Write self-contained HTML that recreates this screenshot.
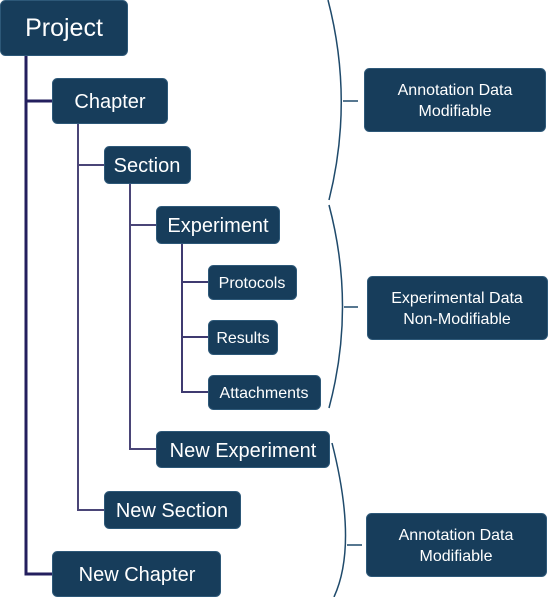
<!DOCTYPE html>
<html><head><meta charset="utf-8"><style>
html,body{margin:0;padding:0;background:#fff;}
svg text{font-family:"Liberation Sans",sans-serif;fill:#fff;}
</style></head><body>
<svg width="548" height="597" viewBox="0 0 548 597" xmlns="http://www.w3.org/2000/svg">
<g fill="none">
<path d="M26 55 V574 H52 M26 101 H52" stroke="#231f5e" stroke-width="3"/>
<path d="M78 123 V510 H104 M78 165 H104" stroke="#4a4577" stroke-width="2"/>
<path d="M130 183 V449 H156 M130 225 H156" stroke="#4a4577" stroke-width="2"/>
<path d="M182 243 V392 H208 M182 282 H208 M182 337 H208" stroke="#3f3a70" stroke-width="2"/>
<g stroke="#1f4a6b" stroke-width="1.5">
<path d="M328 0 Q354 100 329 200 M343 101 H358"/>
<path d="M329 205 Q356 307 329 408 M344 307 H358"/>
<path d="M332 443 Q358 545 334 597 M347 545 H362"/>
</g>
</g>
<g fill="#173d5b" stroke="#2d5878" stroke-width="1">
<rect x="0.5" y="0.5" width="127" height="55" rx="5"/>
<rect x="52.5" y="78.5" width="115" height="45" rx="5"/>
<rect x="104.5" y="146.5" width="86" height="37" rx="5"/>
<rect x="156.5" y="206.5" width="123" height="37" rx="5"/>
<rect x="208.5" y="265.5" width="88" height="34" rx="5"/>
<rect x="208.5" y="320.5" width="69" height="34" rx="5"/>
<rect x="208.5" y="375.5" width="112" height="34" rx="5"/>
<rect x="156.5" y="431.5" width="173" height="36" rx="5"/>
<rect x="104.5" y="491.5" width="136" height="37" rx="5"/>
<rect x="52.5" y="551.5" width="168" height="45" rx="5"/>
<rect x="364.5" y="68.5" width="181" height="63" rx="5"/>
<rect x="367.5" y="276.5" width="180" height="63" rx="5"/>
<rect x="366.5" y="513.5" width="180" height="63" rx="5"/>
</g>
<g text-anchor="middle">
<text x="64" y="36" font-size="25">Project</text>
<text x="110" y="108" font-size="20">Chapter</text>
<text x="147" y="172" font-size="20">Section</text>
<text x="218" y="232" font-size="20">Experiment</text>
<text x="252" y="288" font-size="16">Protocols</text>
<text x="243" y="343" font-size="16">Results</text>
<text x="264" y="398" font-size="16">Attachments</text>
<text x="243" y="457" font-size="20">New Experiment</text>
<text x="172" y="517" font-size="20">New Section</text>
<text x="137" y="581" font-size="20">New Chapter</text>
<text x="455" y="95" font-size="16">Annotation Data</text>
<text x="455" y="116" font-size="16">Modifiable</text>
<text x="457" y="303" font-size="16">Experimental Data</text>
<text x="457" y="324" font-size="16">Non-Modifiable</text>
<text x="456" y="540" font-size="16">Annotation Data</text>
<text x="456" y="561" font-size="16">Modifiable</text>
</g>
</svg>
</body></html>
